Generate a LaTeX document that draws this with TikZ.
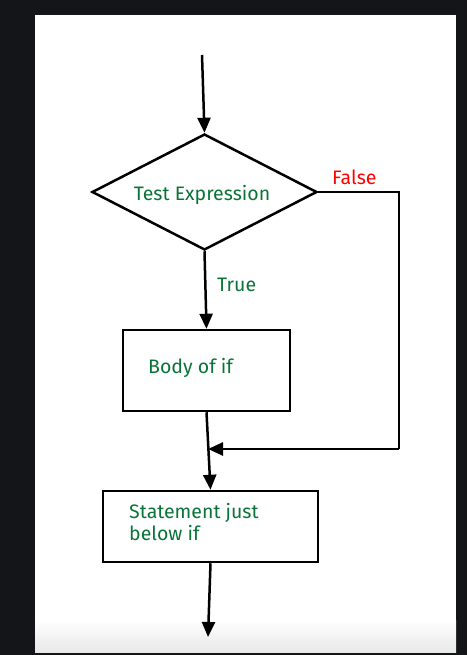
\documentclass[tikz,border=0pt]{standalone}
\usepackage{fontspec}
\setmainfont{Fira Sans}
\usetikzlibrary{shapes.geometric,arrows.meta}
\definecolor{bgdark}{HTML}{141518}
\definecolor{lblgreen}{HTML}{0A7438}
\definecolor{lblred}{HTML}{FF0000}
\begin{document}
\begin{tikzpicture}[x=1pt,y=-1pt,
  line/.style={line width=2.5pt, line join=miter},
  arr/.style={line, -{Triangle[width=13pt,length=15pt]}},
  box/.style={draw, line width=2.5pt, rectangle, inner sep=0pt},
  lbl/.style={text=lblgreen, font=\fontsize{19.5}{22}\selectfont, inner sep=0pt}]
\useasboundingbox (0,0) rectangle (467,655);
\fill[bgdark] (0,0) rectangle (467,655);
\fill[white] (35,15) rectangle (456,620);
\shade[top color=white, bottom color=black!9] (35,620) rectangle (456,652.5);
% nodes
\coordinate (start) at (202,55);
\node[diamond, draw, line width=2.5pt, minimum width=225pt, minimum height=116pt, inner sep=0pt] (test) at (204.5,192) {};
\node[lbl] (testlbl) at (202,195) {Test Expression};
\node[box, minimum width=167pt, minimum height=81pt] (body) at (206.5,370.5) {};
\node[lbl, anchor=west] (bodylbl) at (148,368) {Body of if};
\node[box, minimum width=215pt, minimum height=71pt] (stmt) at (210.5,526.5) {};
\node[lbl, anchor=north west, align=left] (stmtlbl) at (129,503) {Statement just\\below if};
\coordinate (end) at (208,637);
\coordinate (fc1) at (399,192);
\coordinate (fc2) at (399,449);
\coordinate (merge) at (208,449);
\node[lbl, text=lblred, anchor=west] (falselbl) at (332,177) {False};
\node[lbl, anchor=west] (truelbl) at (217,285) {True};
% connectors
\draw[arr] (start) -- (test.north);
\draw[arr] (test.south) -- (body.north);
\draw[line] (test.east) -- (fc1) -- (fc2);
\draw[arr] (fc2) -- (merge);
\draw[arr] (body.south) -- (stmt.north);
\draw[arr] (stmt.south) -- (end);
\end{tikzpicture}
\end{document}
